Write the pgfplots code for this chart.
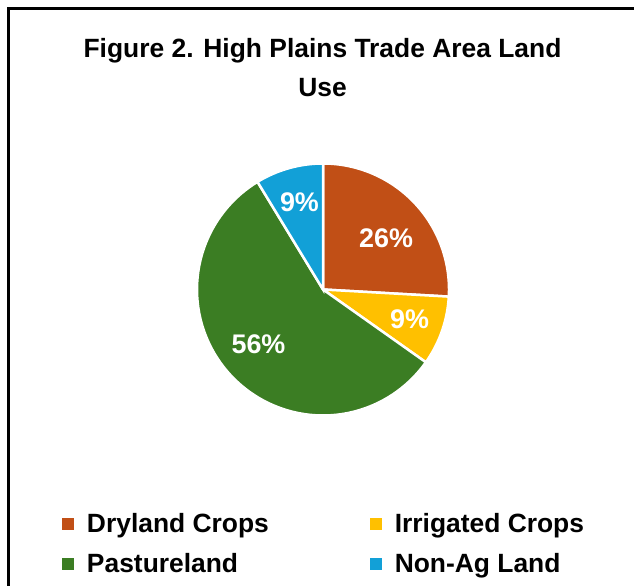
\documentclass[border=0pt]{standalone}
\usepackage{fontspec}
\setmainfont{Liberation Sans}
\usepackage{pgfplots}
\usepackage{pgfplotstable}
\pgfplotsset{compat=1.18}
\definecolor{dry}{HTML}{C14F16}
\definecolor{irr}{HTML}{FFC000}
\definecolor{pas}{HTML}{3B7D23}
\definecolor{nag}{HTML}{12A0D7}
\pgfplotstableread{
name value
Dryland 25.9
Irrigated 8.9
Pastureland 56.5
NonAg 8.7
}\landuse
\begin{document}
\begin{tikzpicture}[x=1bp,y=1bp]
\path[use as bounding box] (0,0) rectangle (634,586);
\clip (0,0) rectangle (634,586);
\fill[white] (0,0) rectangle (634,586);
\draw[line width=3.3bp] (8.2,-10) -- (8.2,577.5) -- (650,577.5);
\node[font=\fontsize{26.5}{30}\selectfont\bfseries, anchor=base] at (322.5,528) {Figure 2. High Plains Trade Area Land};
\node[font=\fontsize{26.5}{30}\selectfont\bfseries, anchor=base] at (322.5,489) {Use};
\pgfplotstablegetelem{0}{value}\of\landuse \pgfmathsetmacro\vA{\pgfplotsretval}
\pgfplotstablegetelem{1}{value}\of\landuse \pgfmathsetmacro\vB{\pgfplotsretval}
\pgfplotstablegetelem{2}{value}\of\landuse \pgfmathsetmacro\vC{\pgfplotsretval}
\pgfplotstablegetelem{3}{value}\of\landuse \pgfmathsetmacro\vD{\pgfplotsretval}
\pgfmathsetmacro\tA{90}
\pgfmathsetmacro\tB{\tA-3.6*\vA}
\pgfmathsetmacro\tC{\tB-3.6*\vB}
\pgfmathsetmacro\tD{\tC-3.6*\vC}
\pgfmathsetmacro\tE{\tD-3.6*\vD}
\begin{axis}[at={(323bp,296.5bp)}, anchor=center, x=126bp, y=126bp,
  xmin=-1, xmax=1, ymin=-1, ymax=1, hide axis, clip=false,
  legend columns=2,
  legend image code/.code={\fill[#1,draw=none] (0bp,2.5bp) rectangle (12bp,14.5bp);},
  legend style={draw=none, fill=none, inner sep=0pt, outer sep=0pt,
    at={(axis cs:-2.0675,-1.7817)}, anchor=north west,
    font=\fontsize{26.5}{30}\selectfont\bfseries,
    nodes={inner sep=0pt, text height=19bp, text depth=6bp},
    cells={anchor=base west}, column sep=0pt, row sep=15bp,
    /tikz/every odd column/.append style={column sep=12.5bp},
    /tikz/every even column/.append style={column sep=101.4bp}},
]
\addplot[fill=dry, draw=white, line width=2.5bp, domain=\tB:\tA, samples=120] ({cos(x)},{sin(x)}) -- (axis cs:0,0) -- cycle;
\addlegendentry{Dryland Crops}
\addplot[fill=irr, draw=white, line width=2.5bp, domain=\tC:\tB, samples=60] ({cos(x)},{sin(x)}) -- (axis cs:0,0) -- cycle;
\addlegendentry{Irrigated Crops}
\addplot[fill=pas, draw=white, line width=2.5bp, domain=\tD:\tC, samples=200] ({cos(x)},{sin(x)}) -- (axis cs:0,0) -- cycle;
\addlegendentry{Pastureland}
\addplot[fill=nag, draw=white, line width=2.5bp, domain=\tE:\tD, samples=60] ({cos(x)},{sin(x)}) -- (axis cs:0,0) -- cycle;
\addlegendentry{Non-Ag Land}
\node[text=white, font=\fontsize{27}{30}\selectfont\bfseries] at (axis cs:0.5,0.405) {26\%};
\node[text=white, font=\fontsize{27}{30}\selectfont\bfseries] at (axis cs:0.687,-0.234) {9\%};
\node[text=white, font=\fontsize{27}{30}\selectfont\bfseries] at (axis cs:-0.512,-0.437) {56\%};
\node[text=white, font=\fontsize{27}{30}\selectfont\bfseries] at (axis cs:-0.187,0.690) {9\%};
\end{axis}
\end{tikzpicture}
\end{document}
